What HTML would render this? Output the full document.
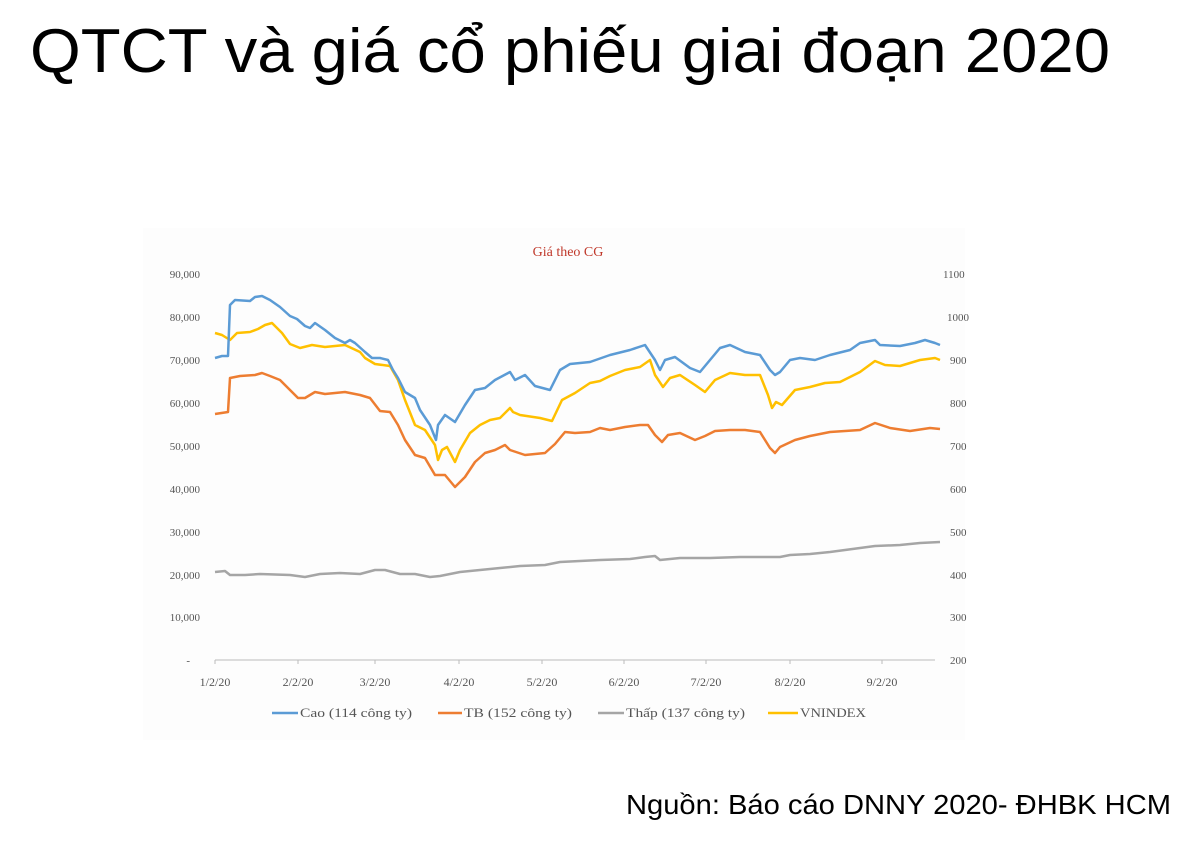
<!DOCTYPE html>
<html><head><meta charset="utf-8"><style>
html,body{margin:0;padding:0;background:#fff;}
svg{display:block}
</style></head><body>
<svg width="1200" height="850" viewBox="0 0 1200 850" xmlns="http://www.w3.org/2000/svg">
<rect width="1200" height="850" fill="#fff"/>
<text x="30" y="72" font-family="Liberation Sans, sans-serif" font-size="62" fill="#000" textLength="1080" lengthAdjust="spacingAndGlyphs">QTCT và giá cổ phiếu giai đoạn 2020</text>
<text x="626" y="814" font-family="Liberation Sans, sans-serif" font-size="28" fill="#000" textLength="545" lengthAdjust="spacingAndGlyphs">Nguồn: Báo cáo DNNY 2020- ĐHBK HCM</text>
<rect x="143" y="228" width="822" height="512" fill="#fdfdfd"/>
<text x="568" y="256" text-anchor="middle" font-family="Liberation Serif, serif" font-size="14" fill="#c0392b">Giá theo CG</text>
<g font-family="Liberation Serif, serif" font-size="11" fill="#555" text-anchor="end">
<text x="200" y="278">90,000</text><text x="200" y="321">80,000</text><text x="200" y="364">70,000</text><text x="200" y="407">60,000</text><text x="200" y="450">50,000</text><text x="200" y="493">40,000</text><text x="200" y="536">30,000</text><text x="200" y="579">20,000</text><text x="200" y="621">10,000</text><text x="190" y="664">-</text>
</g>
<g font-family="Liberation Serif, serif" font-size="11" fill="#555" text-anchor="start">
<text x="943" y="278">1100</text><text x="947" y="321">1000</text><text x="950" y="364">900</text><text x="950" y="407">800</text><text x="950" y="450">700</text><text x="950" y="493">600</text><text x="950" y="536">500</text><text x="950" y="579">400</text><text x="950" y="621">300</text><text x="950" y="664">200</text>
</g>
<line x1="215" y1="660" x2="935" y2="660" stroke="#bbb" stroke-width="1"/>
<g stroke="#bbb"><line x1="215" y1="660" x2="215" y2="664"/><line x1="298" y1="660" x2="298" y2="664"/><line x1="375" y1="660" x2="375" y2="664"/><line x1="459" y1="660" x2="459" y2="664"/><line x1="542" y1="660" x2="542" y2="664"/><line x1="624" y1="660" x2="624" y2="664"/><line x1="706" y1="660" x2="706" y2="664"/><line x1="790" y1="660" x2="790" y2="664"/><line x1="882" y1="660" x2="882" y2="664"/></g>
<g font-family="Liberation Serif, serif" font-size="12" fill="#555" text-anchor="middle">
<text x="215" y="686">1/2/20</text><text x="298" y="686">2/2/20</text><text x="375" y="686">3/2/20</text><text x="459" y="686">4/2/20</text><text x="542" y="686">5/2/20</text><text x="624" y="686">6/2/20</text><text x="706" y="686">7/2/20</text><text x="790" y="686">8/2/20</text><text x="882" y="686">9/2/20</text>
</g>
<g fill="none" stroke-width="2.5" stroke-linejoin="round">
<polyline stroke="#a5a5a5" points="215,572 225,571 230,575 245,575 260,574 290,575 305,577 320,574 340,573 360,574 375,570 385,570 400,574 415,574 430,577 440,576 460,572 480,570 500,568 520,566 545,565 560,562 580,561 600,560 630,559 645,557 655,556 660,560 680,558 710,558 740,557 760,557 780,557 790,555 810,554 830,552 845,550 860,548 875,546 900,545 920,543 940,542"/>
<polyline stroke="#ed7d31" points="215,414 228,412 230,378 240,376 255,375 262,373 270,376 280,380 290,390 298,398 305,398 315,392 325,394 335,393 345,392 360,395 370,398 380,411 390,412 398,425 405,440 415,455 425,458 435,475 440,475 445,475 455,487 465,477 475,462 485,453 495,450 505,445 510,450 525,455 545,453 555,444 565,432 575,433 590,432 600,428 610,430 625,427 640,425 648,425 655,435 662,442 668,435 680,433 695,440 705,436 715,431 730,430 745,430 760,432 770,448 775,453 780,447 795,440 810,436 830,432 860,430 875,423 890,428 910,431 930,428 940,429"/>
<polyline stroke="#ffc000" points="215,333 222,335 230,340 237,333 250,332 258,329 265,325 272,323 282,333 290,344 300,348 312,345 325,347 345,345 360,352 365,358 375,364 390,366 398,380 405,400 415,425 425,430 435,445 438,460 442,450 447,447 455,462 460,450 470,433 480,425 490,420 500,418 510,408 513,412 520,415 540,418 552,421 562,400 575,393 590,383 600,381 610,376 625,370 640,367 650,360 655,375 663,387 670,378 680,375 695,385 705,392 715,380 730,373 745,375 760,375 768,395 772,408 776,402 782,405 795,390 810,387 825,383 840,382 860,372 875,361 885,365 900,366 920,360 935,358 940,360"/>
<polyline stroke="#5b9bd5" points="215,358 222,356 228,356 230,305 235,300 250,301 255,297 262,296 270,300 280,307 290,316 297,319 305,326 310,328 315,323 325,330 335,338 345,343 350,340 355,343 365,352 372,358 380,358 388,360 393,370 398,378 405,392 415,398 420,410 430,425 436,440 438,425 445,415 455,422 465,405 475,390 485,388 495,380 510,372 515,380 525,375 535,386 550,390 560,370 570,364 590,362 610,355 630,350 645,345 655,360 660,370 665,360 675,357 690,368 700,372 710,360 720,348 730,345 745,352 760,355 770,370 775,375 780,372 790,360 800,358 815,360 830,355 850,350 860,343 875,340 880,345 900,346 915,343 925,340 935,343 940,345"/>
</g>
<g stroke-width="2.5">
<line x1="272" y1="713" x2="298" y2="713" stroke="#5b9bd5"/>
<line x1="438" y1="713" x2="462" y2="713" stroke="#ed7d31"/>
<line x1="598" y1="713" x2="624" y2="713" stroke="#a5a5a5"/>
<line x1="768" y1="713" x2="798" y2="713" stroke="#ffc000"/>
</g>
<g font-family="Liberation Serif, serif" font-size="13" fill="#555">
<text x="300" y="717" textLength="112" lengthAdjust="spacingAndGlyphs">Cao (114 công ty)</text>
<text x="464" y="717" textLength="108" lengthAdjust="spacingAndGlyphs">TB (152 công ty)</text>
<text x="626" y="717" textLength="119" lengthAdjust="spacingAndGlyphs">Thấp (137 công ty)</text>
<text x="800" y="717" textLength="66" lengthAdjust="spacingAndGlyphs">VNINDEX</text>
</g>
</svg>
</body></html>
